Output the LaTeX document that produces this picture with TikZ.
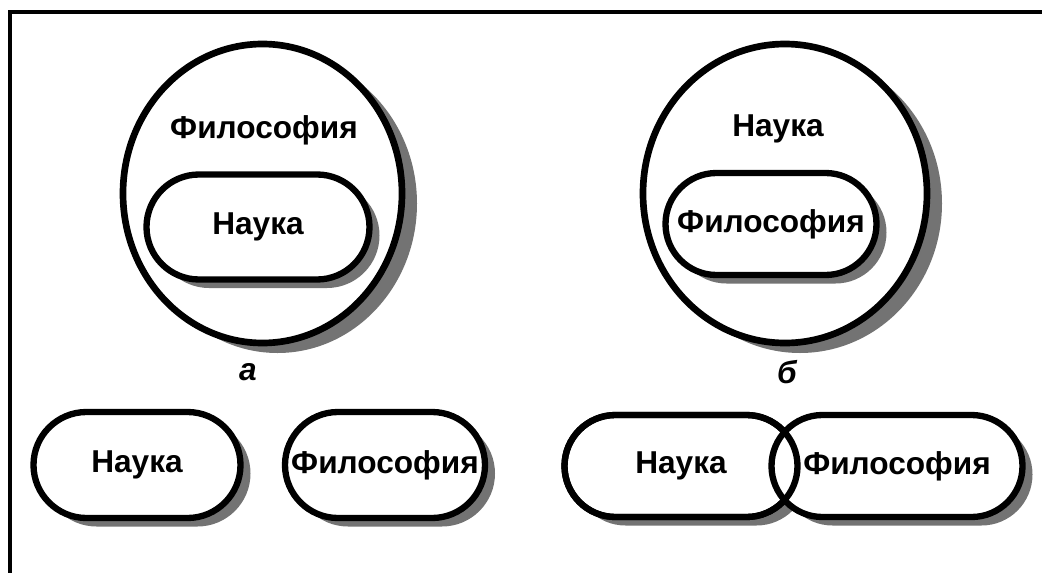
\documentclass[tikz,border=0pt]{standalone}
\usepackage{fontspec}
\setmainfont{Liberation Sans}
\usetikzlibrary{shapes.geometric,shapes.misc,shadows}

\tikzset{
  frameline/.style={line width=2pt},
  blob/.style={draw, line width=3.8pt, fill=white, ellipse, inner sep=0pt,
    drop shadow={shadow xshift=0.3cm, shadow yshift=-0.2cm, fill=black!55, opacity=1}},
  pilledge/.style={draw, line width=3.6pt, rounded rectangle, inner sep=0pt,
    font=\fontsize{18}{20}\selectfont\bfseries},
  pill/.style={pilledge, fill=white,
    drop shadow={shadow xshift=0.2cm, shadow yshift=-0.17cm, fill=black!55, opacity=1}},
  word/.style={font=\fontsize{18}{20}\selectfont\bfseries},
  letter/.style={font=\fontsize{18}{20}\selectfont\bfseries\itshape},
}

\begin{document}
\begin{tikzpicture}
  \useasboundingbox (0,0) rectangle (20.84,-11.46);
  % frame
  \coordinate (tl) at (0.2,-0.24);
  \coordinate (tr) at (20.84,-0.24);
  \coordinate (bl) at (0.2,-11.46);
  \draw[frameline] (tr) -- (tl) -- (bl);

  % a
  \node[blob, minimum width=5.58cm, minimum height=5.98cm] (outerA) at (5.25,-3.87) {};
  \node[word] (phA) at (5.28,-2.6) {Философия};
  \node[pill, minimum width=4.46cm, minimum height=2.1cm] (sciA) at (5.16,-4.54) {Наука};
  \node[letter] (labA) at (4.96,-7.44) {а};

  % b
  \node[blob, minimum width=5.68cm, minimum height=5.98cm] (outerB) at (15.7,-3.87) {};
  \node[word] (sciB) at (15.56,-2.58) {Наука};
  \node[pill, minimum width=4.22cm, minimum height=2.04cm] (phB) at (15.42,-4.48) {Философия};
  \node[letter] (labB) at (15.74,-7.44) {б};

  % apart
  \node[pill, minimum width=4.14cm, minimum height=2.12cm] (sci1) at (2.74,-9.3) {Наука};
  \node[pill, minimum width=4.0cm, minimum height=2.12cm] (ph1) at (7.7,-9.3) {Философия};

  % crossing
  \node[pill, minimum width=4.66cm, minimum height=2.04cm] (sci2) at (13.62,-9.32) {Наука};
  \node[pill, minimum width=5.02cm, minimum height=2.04cm] (ph2) at (17.94,-9.32) {Философия};
  \node[pilledge, minimum width=4.66cm, minimum height=2.04cm] (sci2edge) at (sci2) {};
\end{tikzpicture}
\end{document}
